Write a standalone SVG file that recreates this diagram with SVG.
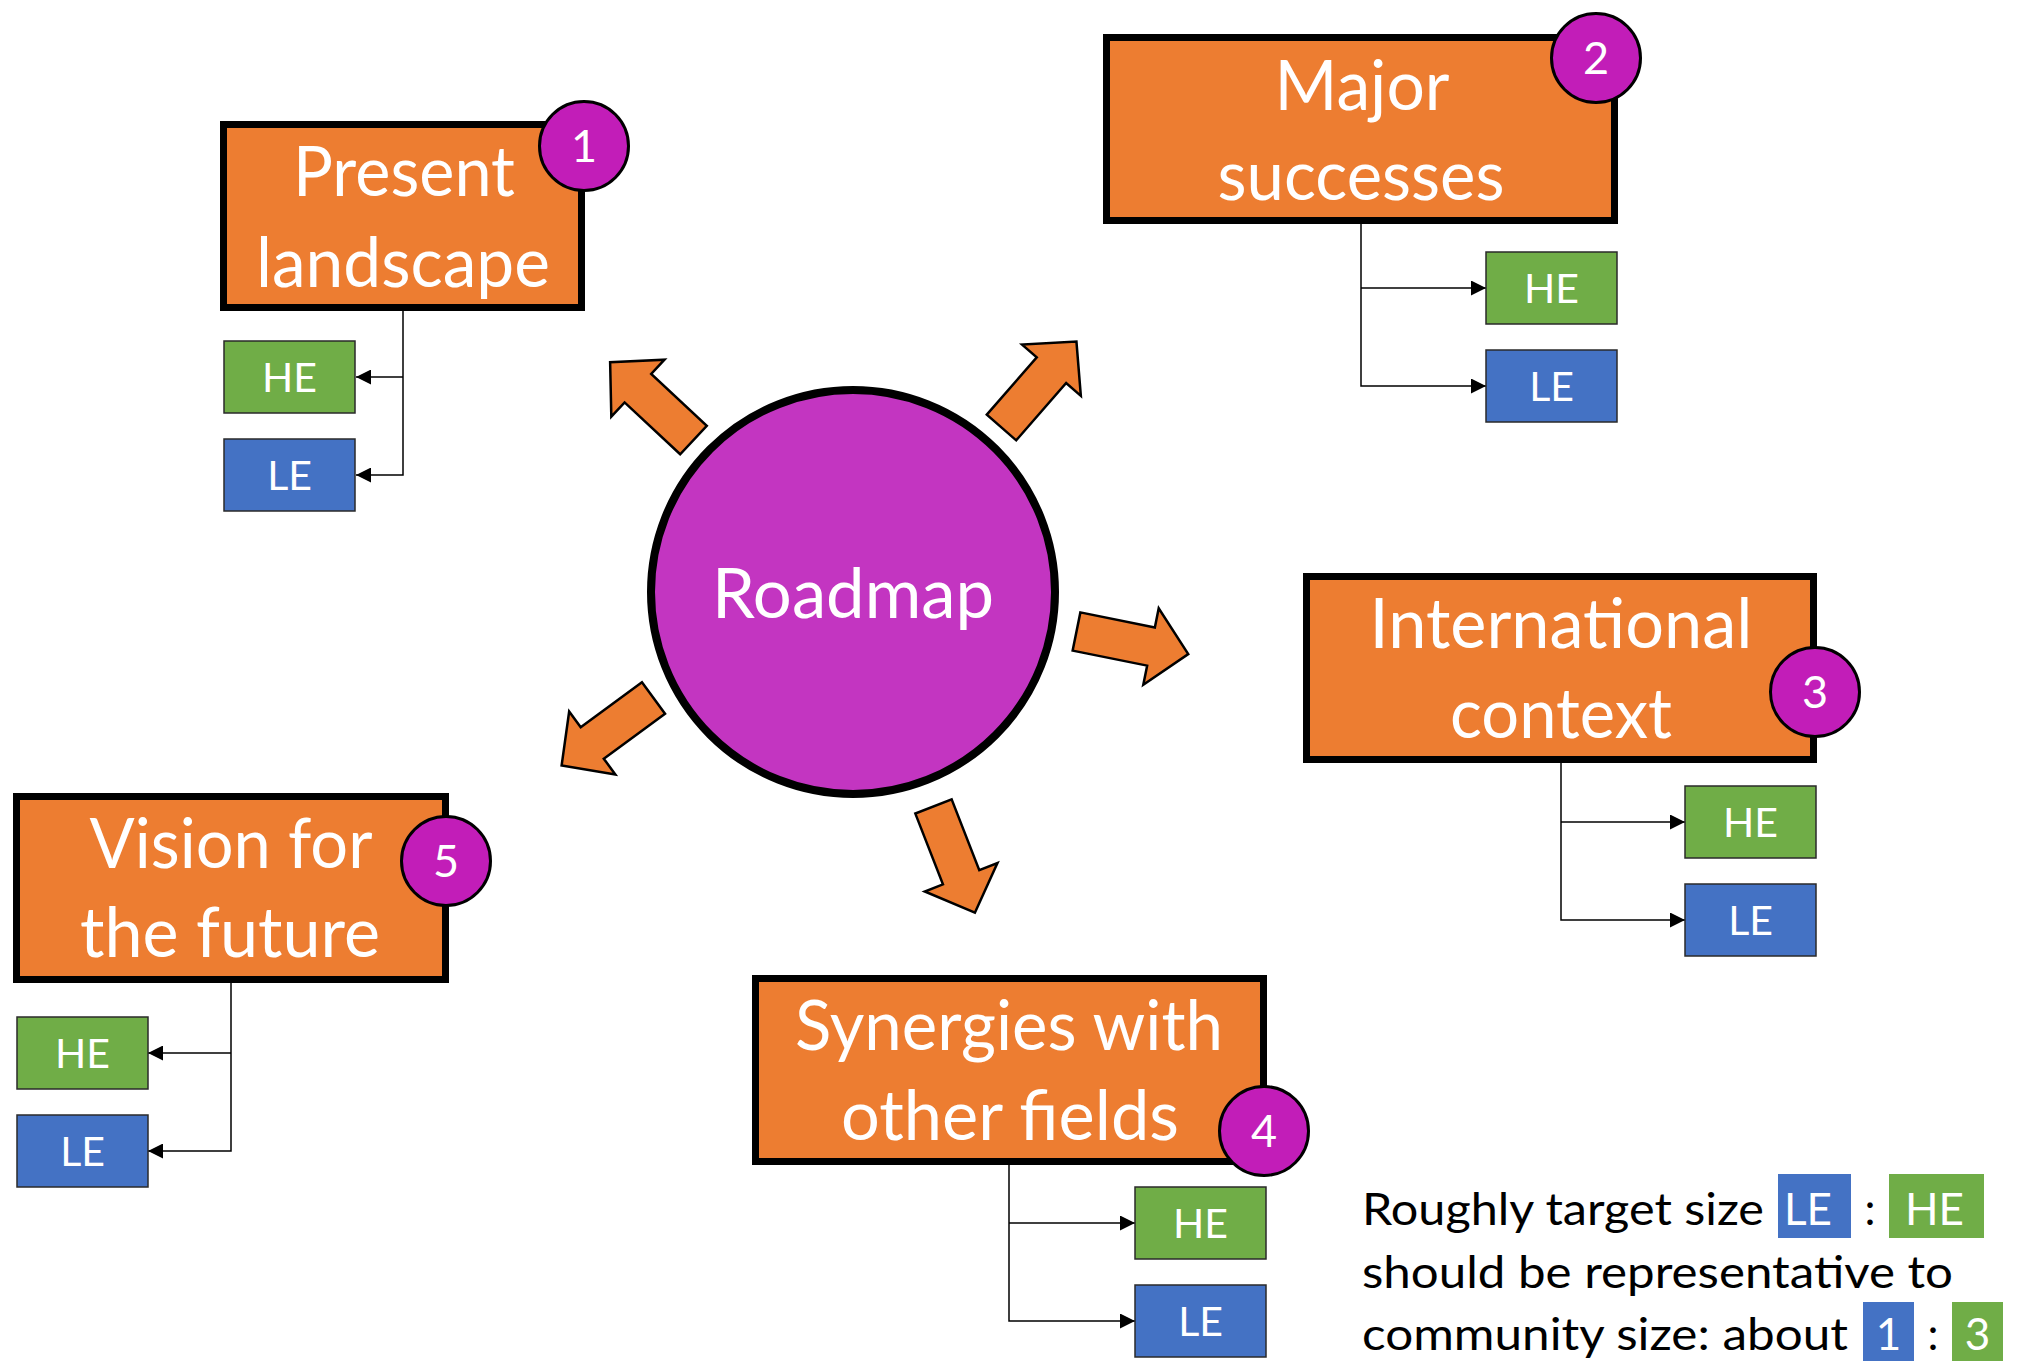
<svg xmlns="http://www.w3.org/2000/svg" width="2023" height="1361" viewBox="0 0 2023 1361">
<defs>
<style>
.box{fill:#ED7D31;stroke:#000;stroke-width:7}
.badge{fill:#C21DB8;stroke:#000;stroke-width:3}
.roadmap{fill:#C335C1;stroke:#000;stroke-width:8}
.he{fill:#70AD47;stroke:#2a2a2a;stroke-width:1.5}
.le{fill:#4472C4;stroke:#2a2a2a;stroke-width:1.5}
.hel{fill:#70AD47}
.lel{fill:#4472C4}
text{font-family:Lato,"Open Sans","Liberation Sans",sans-serif}
.big{font-size:69px;fill:#fff;text-anchor:middle}
.sm{font-size:41px;fill:#fff;text-anchor:middle}
.num{font-size:45px;fill:#fff;text-anchor:middle}
.leg{font-size:44px;fill:#000}
.legw{font-size:44px;fill:#fff}
.conn{fill:none;stroke:#000;stroke-width:1.5;marker-end:url(#ah)}
.blk{fill:#ED7D31;stroke:#000;stroke-width:2.5;stroke-linejoin:miter}
</style>
<marker id="ah" viewBox="0 0 10 10" refX="10" refY="5" markerWidth="16" markerHeight="15" markerUnits="userSpaceOnUse" orient="auto"><path d="M0,0 L10,5 L0,10 z" fill="#000"/></marker>
<path id="barrow" d="M0,-19.5 L76,-19.5 L76,-39 L114,0 L76,39 L76,19.5 L0,19.5 Z"/>
</defs>

<g id="connectors">
<path class="conn" d="M403,311 V475 H356"/>
<path class="conn" d="M403,377 H356"/>
<path class="conn" d="M1361,224 V386 H1486"/>
<path class="conn" d="M1361,288 H1486"/>
<path class="conn" d="M1561,763 V920 H1685"/>
<path class="conn" d="M1561,822 H1685"/>
<path class="conn" d="M1009,1165 V1321 H1135"/>
<path class="conn" d="M1009,1223 H1135"/>
<path class="conn" d="M231,983 V1151 H148"/>
<path class="conn" d="M231,1053 H148"/>
<use href="#barrow" class="blk" transform="translate(693.5,440) rotate(-137)"/>
<use href="#barrow" class="blk" transform="translate(1001.5,427.5) rotate(-48.9)"/>
<use href="#barrow" class="blk" transform="translate(1076.5,631.5) rotate(11.4)"/>
<use href="#barrow" class="blk" transform="translate(653.5,698) rotate(143.7)"/>
<use href="#barrow" class="blk" transform="translate(933.5,806.5) rotate(68.7)"/>
</g>

<g id="roadmap">
<circle class="roadmap" cx="853" cy="592" r="202"/>
<text class="big" x="853" y="618" textLength="282" lengthAdjust="spacingAndGlyphs">Roadmap</text>
</g>

<g id="present-landscape">
<rect class="box" x="223.5" y="124.5" width="358" height="183"/>
<text class="big" x="404" y="196" textLength="222" lengthAdjust="spacingAndGlyphs">Present</text>
<text class="big" x="403" y="287" textLength="294" lengthAdjust="spacingAndGlyphs">landscape</text>
<circle class="badge" cx="584" cy="146" r="44.5"/>
<text class="num" x="584" y="162">1</text>
</g>
<g id="present-he"><rect class="he" x="224" y="341" width="131" height="72"/><text class="sm" x="289.5" y="392">HE</text></g>
<g id="present-le"><rect class="le" x="224" y="439" width="131" height="72"/><text class="sm" x="289.5" y="490">LE</text></g>

<g id="major-successes">
<rect class="box" x="1106.5" y="37.5" width="508" height="183"/>
<text class="big" x="1362" y="110" textLength="175" lengthAdjust="spacingAndGlyphs">Major</text>
<text class="big" x="1361" y="200" textLength="287" lengthAdjust="spacingAndGlyphs">successes</text>
<circle class="badge" cx="1596" cy="58" r="44.5"/>
<text class="num" x="1596" y="74">2</text>
</g>
<g id="major-he"><rect class="he" x="1486" y="252" width="131" height="72"/><text class="sm" x="1551.5" y="303">HE</text></g>
<g id="major-le"><rect class="le" x="1486" y="350" width="131" height="72"/><text class="sm" x="1551.5" y="401">LE</text></g>

<g id="international-context">
<rect class="box" x="1306.5" y="576.5" width="507" height="183"/>
<text class="big" x="1561" y="648" textLength="383" lengthAdjust="spacingAndGlyphs">International</text>
<text class="big" x="1561" y="738" textLength="222" lengthAdjust="spacingAndGlyphs">context</text>
<circle class="badge" cx="1815" cy="692" r="44.5"/>
<text class="num" x="1815" y="708">3</text>
</g>
<g id="international-he"><rect class="he" x="1685" y="786" width="131" height="72"/><text class="sm" x="1750.5" y="837">HE</text></g>
<g id="international-le"><rect class="le" x="1685" y="884" width="131" height="72"/><text class="sm" x="1750.5" y="935">LE</text></g>

<g id="synergies">
<rect class="box" x="755.5" y="978.5" width="508" height="183"/>
<text class="big" x="1009" y="1050" textLength="428" lengthAdjust="spacingAndGlyphs">Synergies with</text>
<text class="big" x="1010" y="1140" textLength="338" lengthAdjust="spacingAndGlyphs">other fields</text>
<circle class="badge" cx="1264" cy="1131" r="44.5"/>
<text class="num" x="1264" y="1147">4</text>
</g>
<g id="synergies-he"><rect class="he" x="1135" y="1187" width="131" height="72"/><text class="sm" x="1200.5" y="1238">HE</text></g>
<g id="synergies-le"><rect class="le" x="1135" y="1285" width="131" height="72"/><text class="sm" x="1200.5" y="1336">LE</text></g>

<g id="vision">
<rect class="box" x="16.5" y="796.5" width="429" height="183"/>
<text class="big" x="231" y="868" textLength="283" lengthAdjust="spacingAndGlyphs">Vision for</text>
<text class="big" x="230" y="957" textLength="300" lengthAdjust="spacingAndGlyphs">the future</text>
<circle class="badge" cx="446" cy="861" r="44.5"/>
<text class="num" x="446" y="877">5</text>
</g>
<g id="vision-he"><rect class="he" x="17" y="1017" width="131" height="72"/><text class="sm" x="82.5" y="1068">HE</text></g>
<g id="vision-le"><rect class="le" x="17" y="1115" width="131" height="72"/><text class="sm" x="82.5" y="1166">LE</text></g>

<g id="legend">
<text class="leg" x="1362" y="1225" textLength="402" lengthAdjust="spacingAndGlyphs">Roughly target size</text>
<rect class="lel" x="1778" y="1174" width="73" height="64"/>
<text class="legw" x="1784" y="1225">LE</text>
<text class="leg" x="1870" y="1225" text-anchor="middle">:</text>
<rect class="hel" x="1889" y="1174" width="95" height="64"/>
<text class="legw" x="1905" y="1225">HE</text>
<text class="leg" x="1362" y="1288" textLength="591" lengthAdjust="spacingAndGlyphs">should be representative to</text>
<text class="leg" x="1362" y="1350" textLength="486" lengthAdjust="spacingAndGlyphs">community size: about</text>
<rect class="lel" x="1863" y="1302" width="51" height="59"/>
<text class="legw" x="1888.5" y="1350" text-anchor="middle">1</text>
<text class="leg" x="1933" y="1350" text-anchor="middle">:</text>
<rect class="hel" x="1952" y="1302" width="51" height="59"/>
<text class="legw" x="1977.5" y="1350" text-anchor="middle">3</text>
</g>
</svg>
